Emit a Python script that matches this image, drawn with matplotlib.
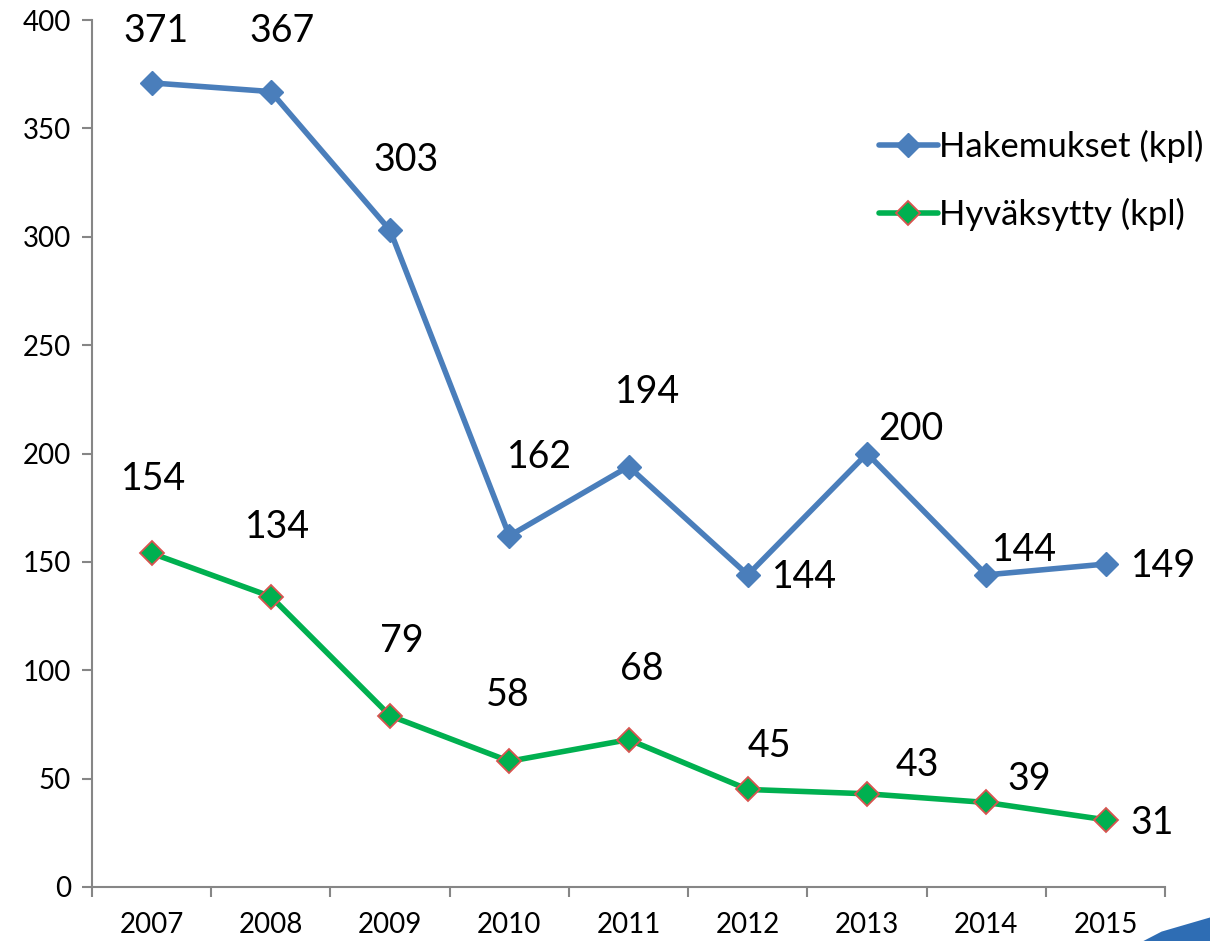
import matplotlib.pyplot as plt
from matplotlib.patches import Polygon

# data
years = ["2007", "2008", "2009", "2010", "2011", "2012", "2013", "2014", "2015"]
hakemukset = [371, 367, 303, 162, 194, 144, 200, 144, 149]
hyvaksytty = [154, 134, 79, 58, 68, 45, 43, 39, 31]

# label offsets in pixels (dx, dy)
hak_off = [(4, 52), (11, 61), (16, 70), (30, 79), (19, 75), (57, -2), (44, 25), (38, 25), (58, -2)]
hyv_off = [(2, 74), (7, 70), (12, 75), (-2, 66), (13, 71), (22, 43), (50, 29), (43, 23), (47, -3)]

plt.rcParams["font.family"] = ["Lato", "DejaVu Sans"]

fig = plt.figure(figsize=(12.1, 9.41), dpi=100)
ax = fig.add_axes([0.076, 0.0574, 0.887, 0.9213])

x = range(len(years))
blue = "#4A7EBB"
green = "#00B050"

ax.plot(x, hakemukset, color=blue, lw=4, marker="D", ms=12,
        mfc=blue, mec=blue, label="Hakemukset (kpl)", solid_capstyle="round")
ax.plot(x, hyvaksytty, color=green, lw=4, marker="D", ms=12,
        mfc=green, mec="#D9534F", mew=1.3, label="Hyväksytty (kpl)", solid_capstyle="round")

for i, v in enumerate(hakemukset):
    ax.annotate(str(v), (i, v), xytext=hak_off[i], textcoords="offset pixels",
                ha="center", va="center", fontsize=27, color="black")
for i, v in enumerate(hyvaksytty):
    ax.annotate(str(v), (i, v), xytext=hyv_off[i], textcoords="offset pixels",
                ha="center", va="center", fontsize=27, color="black")

ax.set_xlim(-0.5, len(years) - 0.5)
ax.set_ylim(0, 400)
ax.set_yticks(range(0, 401, 50))
ax.set_xticks(list(x))
ax.set_xticklabels(years)
ax.set_xticks([i - 0.5 for i in range(len(years) + 1)], minor=True)

for s in ["top", "right"]:
    ax.spines[s].set_visible(False)
for s in ["left", "bottom"]:
    ax.spines[s].set_color("#868686")
    ax.spines[s].set_linewidth(1.5)

ax.tick_params(axis="y", colors="#868686", labelcolor="black", length=7, width=1.5,
               labelsize=20, pad=8)
ax.tick_params(axis="x", which="major", length=0, labelsize=20, pad=18)
ax.tick_params(axis="x", which="minor", colors="#868686", length=7, width=1.5)

leg = ax.legend(loc="upper left", bbox_to_anchor=(0.733, 0.873), frameon=False,
                fontsize=25, handlelength=1.7, handletextpad=0.05, labelspacing=1.0,
                borderpad=0, borderaxespad=0)

# decorative swoosh in the corner
fig.patches.append(Polygon([[0.945, 0.0], [1.0, 0.0], [1.0, 0.025], [0.96, 0.01]],
                           closed=True, transform=fig.transFigure,
                           facecolor="#2E6DB4", edgecolor="none"))

fig.savefig("out.png", dpi=100)
